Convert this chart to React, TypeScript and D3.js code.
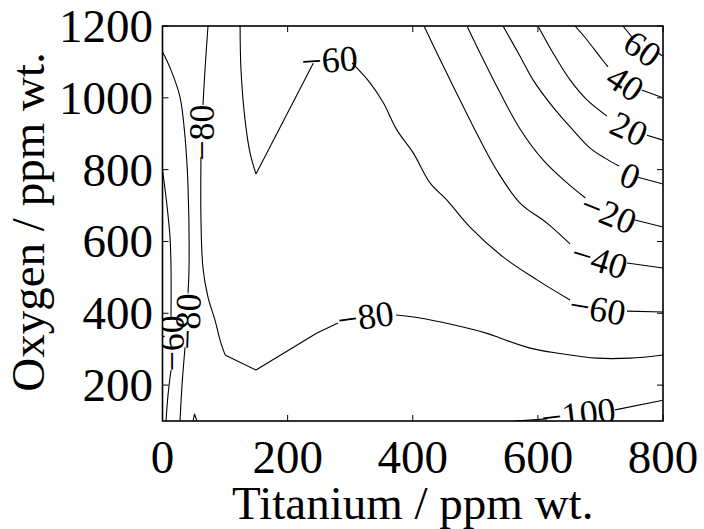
import React from 'react';
import * as d3 from 'd3';

type Pt = [number, number];

// Axis ticks
const xTicks = [0, 200, 400, 600, 800];
const yTicks = [200, 400, 600, 800, 1000, 1200];

// Contour polylines in (Titanium ppm, Oxygen ppm); each level is split where its label sits.
const p60a: Pt[] = [[736, 1200], [750, 1170]];
const p60b: Pt[] = [[792, 1125], [800, 1116]];

const p40a: Pt[] = [[659.4, 1200], [678.6, 1161], [699.4, 1114], [712.1, 1086]];
const p40b: Pt[] = [[766, 1022], [800, 1000]];

const p20a: Pt[] = [[600.2, 1200], [624.2, 1125], [651.4, 1050], [678.6, 994], [710.5, 949]];
const p20b: Pt[] = [[774.4, 896], [800, 882]];

const zeroA: Pt[] = [[544.3, 1200], [571.5, 1116], [592.3, 1050], [624.2, 974], [656.2, 910], [683.4, 860], [707.3, 832], [729.7, 810]];
const zeroB: Pt[] = [[760, 779], [800, 760]];

const n20a: Pt[] = [[486.7, 1200], [507.5, 1125], [534.2, 1032], [571.5, 913], [608.2, 827], [643.4, 768], [676, 721]];
const n20b: Pt[] = [[755.2, 660], [800, 640]];

const n40a: Pt[] = [[418, 1200], [438.6, 1125], [465, 1031], [497, 919], [534, 799], [571.5, 707], [614.6, 651], [651.4, 593]];
const n40b: Pt[] = [[742.5, 540], [800, 526]];

// −60: the V-shaped branch that runs out to the right edge
const n60a: Pt[] = [[124, 1200], [125.5, 1077], [132, 938], [140, 846], [149.4, 788]];
const n60b: Pt[] = [[149.4, 788], [241, 1096]];
const n60c: Pt[] = [[303, 1097], [332, 1041], [353, 986], [374.8, 910], [401, 846], [427.6, 763], [454.7, 715], [491.5, 640], [544.3, 557], [598.6, 493], [651.4, 437]];
const n60d: Pt[] = [[742.5, 406], [800, 403.5]];
// −60: branch along the low-titanium edge
const n60e: Pt[] = [[0, 799], [5.6, 724], [12, 612], [13.6, 526], [13.6, 390]];
const n60f: Pt[] = [[13.6, 242], [8.8, 172], [5.6, 100]];

// −80: main branch
const n80a: Pt[] = [[72.7, 1200], [67.9, 1077], [64.7, 980]];
const n80b: Pt[] = [[61.5, 835], [61.5, 660], [64.7, 526], [72.7, 445], [83.9, 381], [91.9, 326], [100, 284]];
const n80c: Pt[] = [[100, 284], [149.4, 242], [246.9, 345], [280.5, 373]];
const n80d: Pt[] = [[373.2, 395], [411.6, 387], [459.5, 370], [518.7, 344], [539.5, 331], [587.5, 303], [635.4, 288], [694, 275], [747.3, 275], [800, 284]];
// −80: branch near the left edge
const n80e: Pt[] = [[0, 1128], [13.6, 1077], [28, 1002], [36, 891], [40.8, 752], [42.4, 526], [40.8, 456]];
const n80f: Pt[] = [[36, 305], [31.2, 200], [28, 100]];

const n100a: Pt[] = [[563, 100], [614.6, 106]];
const n100b: Pt[] = [[723.3, 131], [800, 158]];
const n100c: Pt[] = [[48.8, 100], [51.1, 119.5], [55.1, 100]];

type Piece = { pts: Pt[]; sharp?: boolean };
const contours: { level: number; pieces: Piece[] }[] = [
  { level: 60, pieces: [{ pts: p60a }, { pts: p60b }] },
  { level: 40, pieces: [{ pts: p40a }, { pts: p40b }] },
  { level: 20, pieces: [{ pts: p20a }, { pts: p20b }] },
  { level: 0, pieces: [{ pts: zeroA }, { pts: zeroB }] },
  { level: -20, pieces: [{ pts: n20a }, { pts: n20b }] },
  { level: -40, pieces: [{ pts: n40a }, { pts: n40b }] },
  {
    level: -60,
    pieces: [{ pts: n60a }, { pts: n60b, sharp: true }, { pts: n60c }, { pts: n60d }, { pts: n60e }, { pts: n60f }],
  },
  {
    level: -80,
    pieces: [{ pts: n80a }, { pts: n80b }, { pts: n80c, sharp: true }, { pts: n80d }, { pts: n80e }, { pts: n80f }],
  },
  { level: -100, pieces: [{ pts: n100a }, { pts: n100b }, { pts: n100c, sharp: true }] },
];

// Inline contour labels: level, anchor on the contour (data units), text angle
const contourLabels: { level: number; at: Pt; angle: number }[] = [
  { level: -60, at: [266.9, 1105], angle: -4 },
  { level: -80, at: [63.1, 903], angle: -90 },
  { level: -80, at: [40.8, 377], angle: -88 },
  { level: -60, at: [15.2, 316], angle: -90 },
  { level: 60, at: [767.2, 1136], angle: 35 },
  { level: 40, at: [739.3, 1040], angle: 33 },
  { level: 20, at: [745.6, 913], angle: 25 },
  { level: 0, at: [747.3, 782], angle: 22 },
  { level: -20, at: [712.9, 678], angle: 22 },
  { level: -40, at: [698.5, 548], angle: 17 },
  { level: -60, at: [695.3, 412], angle: 10 },
  { level: -80, at: [324.5, 390], angle: -8 },
  { level: -100, at: [665, 119], angle: -7 },
];

const W = 704;
const H = 529;
const plot = { left: 162.5, right: 663, top: 26, bottom: 421 };
const FONT = "'Liberation Serif', 'Times New Roman', Times, serif";

export default function App() {
  const x = d3.scaleLinear().domain([0, 800]).range([plot.left, plot.right]);
  const y = d3.scaleLinear().domain([100, 1200]).range([plot.bottom, plot.top]);

  const smooth = d3
    .line<Pt>()
    .x((d) => x(d[0]))
    .y((d) => y(d[1]))
    .curve(d3.curveCatmullRom.alpha(0.5));
  const straight = d3
    .line<Pt>()
    .x((d) => x(d[0]))
    .y((d) => y(d[1]));

  const fmt = d3.format('d');
  const tickLen = 6;

  return (
    <svg
      width={W}
      height={H}
      style={{ position: 'absolute', left: 0, top: 0, display: 'block' }}
      fontFamily={FONT}
    >
      <rect width={W} height={H} fill="#fff" />
      <defs>
        <clipPath id="plotArea">
          <rect x={plot.left} y={plot.top} width={plot.right - plot.left} height={plot.bottom - plot.top} />
        </clipPath>
      </defs>

      <g clipPath="url(#plotArea)">
        {contours.map((c) =>
          c.pieces.map((p, i) => (
            <path
              key={`${c.level}-${i}`}
              d={(p.sharp ? straight : smooth)(p.pts) || ''}
              fill="none"
              stroke="#000"
              strokeWidth={1.1}
              strokeLinejoin="round"
            />
          ))
        )}
        {contourLabels.map((l, i) => {
          const cx = x(l.at[0]);
          const cy = y(l.at[1]);
          return (
            <text
              key={`lab-${i}`}
              x={cx}
              y={cy}
              transform={`rotate(${l.angle} ${cx} ${cy})`}
              textAnchor="middle"
              dominantBaseline="central"
              fontSize={36}
              fill="#000"
            >
              {fmt(l.level)}
            </text>
          );
        })}
      </g>

      {/* axes box */}
      <rect
        x={plot.left}
        y={plot.top}
        width={plot.right - plot.left}
        height={plot.bottom - plot.top}
        fill="none"
        stroke="#000"
        strokeWidth={1.6}
      />

      {/* inward ticks on all four sides */}
      {xTicks.map((t) => (
        <g key={`xt-${t}`}>
          <line x1={x(t)} x2={x(t)} y1={plot.bottom} y2={plot.bottom - tickLen} stroke="#000" strokeWidth={1} />
          <line x1={x(t)} x2={x(t)} y1={plot.top} y2={plot.top + tickLen} stroke="#000" strokeWidth={1} />
          <text x={x(t)} y={473} textAnchor="middle" fontSize={47} fill="#000">
            {fmt(t)}
          </text>
        </g>
      ))}
      {yTicks.map((t) => (
        <g key={`yt-${t}`}>
          <line x1={plot.left} x2={plot.left + tickLen} y1={y(t)} y2={y(t)} stroke="#000" strokeWidth={1} />
          <line x1={plot.right} x2={plot.right - tickLen} y1={y(t)} y2={y(t)} stroke="#000" strokeWidth={1} />
          <text x={153} y={y(t)} textAnchor="end" dominantBaseline="central" fontSize={47} fill="#000">
            {fmt(t)}
          </text>
        </g>
      ))}

      <text x={(plot.left + plot.right) / 2} y={519} textAnchor="middle" fontSize={47} fill="#000">
        Titanium / ppm wt.
      </text>
      <text
        x={44}
        y={222}
        transform="rotate(-90 44 222)"
        textAnchor="middle"
        fontSize={47}
        fill="#000"
      >
        Oxygen / ppm wt.
      </text>
    </svg>
  );
}
